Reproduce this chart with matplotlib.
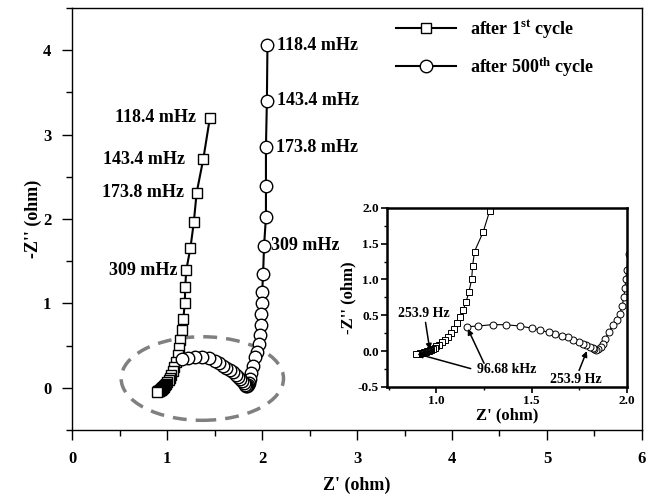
import numpy as np
import matplotlib.pyplot as plt
from matplotlib.patches import Ellipse
from matplotlib.ticker import MultipleLocator

plt.rcParams['font.family'] = 'Liberation Serif'
plt.rcParams['font.weight'] = 'bold'
plt.rcParams['axes.labelweight'] = 'bold'
plt.rcParams['mathtext.fontset'] = 'custom'
plt.rcParams['mathtext.rm'] = 'Liberation Serif:bold'
plt.rcParams['mathtext.it'] = 'Liberation Serif:bold'
plt.rcParams['mathtext.bf'] = 'Liberation Serif:bold'

# Nyquist data, ordered from low frequency (top) to high frequency
# after 1st cycle (squares)
z_re_1 = [1.45, 1.38, 1.31, 1.28, 1.245, 1.20, 1.19, 1.185, 1.17, 1.155,
          1.14, 1.125, 1.11, 1.09, 1.075, 1.06, 1.045, 1.03, 1.015, 1.00,
          0.99, 0.98, 0.97, 0.965, 0.96, 0.955, 0.95, 0.945, 0.94, 0.935,
          0.93, 0.925, 0.92, 0.915, 0.91, 0.905, 0.90, 0.895]
z_im_1 = [3.20, 2.71, 2.31, 1.96, 1.66, 1.39, 1.19, 1.00, 0.82, 0.68,
          0.57, 0.47, 0.39, 0.31, 0.25, 0.20, 0.155, 0.12, 0.09, 0.065,
          0.045, 0.03, 0.02, 0.012, 0.006, 0.0, -0.004, -0.008, -0.012, -0.016,
          -0.02, -0.024, -0.028, -0.032, -0.036, -0.04, -0.043, -0.046]

# after 500th cycle (circles)
z_re_500 = [2.056, 2.05, 2.04, 2.04, 2.04, 2.02, 2.01, 2.0, 1.995, 1.99,
            1.985, 1.975, 1.965, 1.947, 1.926, 1.904, 1.887, 1.876, 1.862, 1.85,
            1.84, 1.83, 1.82, 1.805, 1.787, 1.77, 1.748, 1.72, 1.69, 1.66,
            1.624, 1.589, 1.544, 1.50, 1.438, 1.367, 1.296, 1.22, 1.16]
z_im_500 = [4.06, 3.40, 2.85, 2.39, 2.02, 1.68, 1.35, 1.13, 1.0, 0.88,
            0.75, 0.63, 0.52, 0.43, 0.36, 0.26, 0.17, 0.10, 0.06, 0.035,
            0.02, 0.025, 0.038, 0.057, 0.086, 0.10, 0.13, 0.157, 0.19, 0.21,
            0.24, 0.26, 0.295, 0.32, 0.35, 0.367, 0.37, 0.35, 0.34]

freq_labels = ['118.4 mHz', '143.4 mHz', '173.8 mHz', '', '', '309 mHz']
sq_offsets = [-10, -13, -9, 0, 0, -6]   # points, text to the left of squares
ci_offsets = [7, 7, 7, 0, 0, 5]         # points, text to the right of circles

fig = plt.figure(figsize=(6.57, 4.96), dpi=100)
ax = fig.add_axes([0.110, 0.133, 0.867, 0.851])

ax.plot(z_re_1, z_im_1, '-s', color='black', lw=1.5, ms=7.5,
        mfc='white', mec='black', mew=1.0, label=r'after 1$^{\rm st}$ cycle')
ax.plot(z_re_500, z_im_500, '-o', color='black', lw=1.5, ms=9,
        mfc='white', mec='black', mew=1.0, label=r'after 500$^{\rm th}$ cycle')

for i, lab in enumerate(freq_labels):
    if not lab:
        continue
    ax.annotate(lab, xy=(z_re_1[i], z_im_1[i]), xytext=(sq_offsets[i], 0),
                textcoords='offset points', ha='right', va='center', fontsize=13)
    ax.annotate(lab, xy=(z_re_500[i], z_im_500[i]), xytext=(ci_offsets[i], 0),
                textcoords='offset points', ha='left', va='center', fontsize=13)

ax.add_patch(Ellipse((1.37, 0.11), 1.71, 0.99, fill=False, ls=(0, (4, 2.6)),
                     lw=2.5, color='#808080'))

ax.set_xlim(0, 6)
ax.set_ylim(-0.5, 4.5)
ax.xaxis.set_major_locator(MultipleLocator(1))
ax.xaxis.set_minor_locator(MultipleLocator(0.5))
ax.yaxis.set_major_locator(MultipleLocator(1))
ax.yaxis.set_minor_locator(MultipleLocator(0.5))
ax.tick_params(which='major', direction='out', length=7, width=1, labelsize=12, pad=8)
ax.tick_params(which='minor', direction='out', length=4, width=1)
ax.set_xlabel("Z' (ohm)", fontsize=13, labelpad=7)
ax.set_ylabel("-Z'' (ohm)", fontsize=13, labelpad=1)
for s in ax.spines.values():
    s.set_linewidth(1.0)

ax.legend(loc='upper left', bbox_to_anchor=(0.54, 1.015), frameon=False,
          handlelength=3.3, fontsize=13, labelspacing=0.85)

# inset: zoom on the high-frequency region
ax_in = fig.add_axes([0.589, 0.220, 0.365, 0.361])
ax_in.plot(z_re_1, z_im_1, '-s', color='black', lw=0.8, ms=4.5,
           mfc='white', mec='black', mew=0.7)
ax_in.plot(z_re_500, z_im_500, '-o', color='black', lw=0.8, ms=5,
           mfc='white', mec='black', mew=0.7)
ax_in.set_xlim(0.74, 2.0)
ax_in.set_ylim(-0.5, 2.0)
ax_in.xaxis.set_major_locator(MultipleLocator(0.5))
ax_in.xaxis.set_minor_locator(MultipleLocator(0.25))
ax_in.yaxis.set_major_locator(MultipleLocator(0.5))
ax_in.yaxis.set_minor_locator(MultipleLocator(0.25))
ax_in.tick_params(which='major', direction='out', length=4, width=1.2, labelsize=9.5, pad=2)
ax_in.tick_params(which='minor', direction='out', length=2.5, width=1.0)
ax_in.xaxis.set_major_formatter(plt.FormatStrFormatter('%.1f'))
ax_in.yaxis.set_major_formatter(plt.FormatStrFormatter('%.1f'))
ax_in.set_xlabel("Z' (ohm)", fontsize=12, labelpad=0)
ax_in.set_ylabel("-Z'' (ohm)", fontsize=12, labelpad=1)
for s in ax_in.spines.values():
    s.set_linewidth(1.8)

arrow = dict(arrowstyle='-|>', color='black', lw=1.1, mutation_scale=8, shrinkA=0, shrinkB=0)
ax_in.annotate('253.9 Hz', xy=(0.965, 0.02), xytext=(0.935, 0.53),
               ha='center', va='center', fontsize=10, arrowprops=arrow)
ax_in.text(1.37, -0.26, '96.68 kHz', ha='center', va='center', fontsize=10)
ax_in.annotate('', xy=(0.90, -0.04), xytext=(1.18, -0.245), arrowprops=arrow)
ax_in.annotate('', xy=(1.165, 0.31), xytext=(1.25, -0.17), arrowprops=arrow)
ax_in.annotate('253.9 Hz', xy=(1.79, 0.0), xytext=(1.73, -0.40),
               ha='center', va='center', fontsize=10, arrowprops=arrow)

fig.savefig('out.png', dpi=100)
